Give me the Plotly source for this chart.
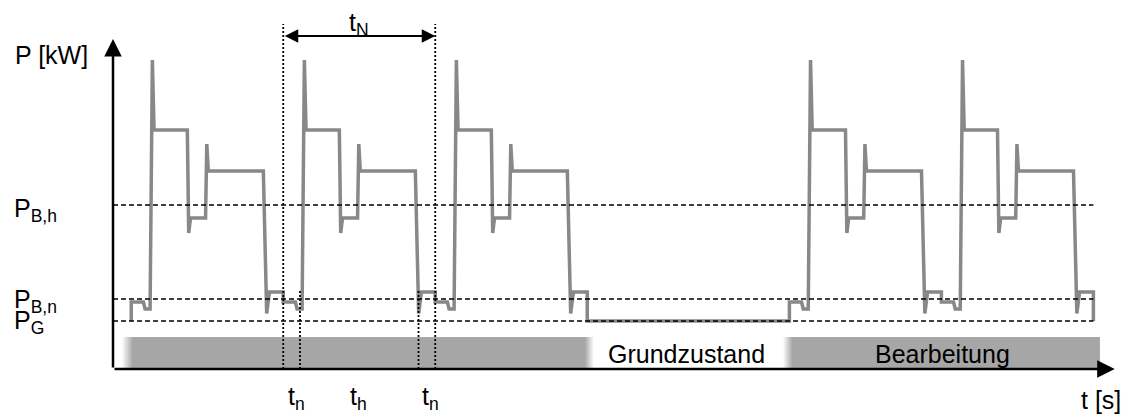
import plotly.graph_objects as go

# ---------------- data ----------------
# power profile P(t): time in s, power in kW (schematic units)
t_s = [
    1.2,
    1.2, 2.0, 2.11, 2.44, 2.59, 2.7, 4.89, 4.98, 5.1, 6.09, 6.17, 6.27, 9.89, 10.11, 10.29, 11.2,
    11.2, 12.0, 12.11, 12.44, 12.59, 12.7, 14.89, 14.98, 15.1, 16.09, 16.17, 16.27, 19.89, 20.11, 20.29, 21.2,
    21.2, 22.0, 22.11, 22.44, 22.59, 22.7, 24.89, 24.98, 25.1, 26.09, 26.17, 26.27, 29.89, 30.11, 30.29, 31.2,
    31.2, 44.5,
    44.5, 45.3, 45.41, 45.74, 45.89, 46.0, 48.19, 48.28, 48.4, 49.39, 49.47, 49.57, 53.19, 53.41, 53.59, 54.5,
    54.5, 55.3, 55.41, 55.74, 55.89, 56.0, 58.19, 58.28, 58.4, 59.39, 59.47, 59.57, 63.19, 63.41, 63.59, 64.5,
    64.5,
]
p_kw = [
    4.8,
    6.7, 6.7, 6.0, 6.0, 30.9, 23.9, 23.9, 13.6, 15.1, 15.1, 22.5, 19.8, 19.8, 5.55, 7.7, 7.7,
    6.7, 6.7, 6.0, 6.0, 30.9, 23.9, 23.9, 13.6, 15.1, 15.1, 22.5, 19.8, 19.8, 5.55, 7.7, 7.7,
    6.7, 6.7, 6.0, 6.0, 30.9, 23.9, 23.9, 13.6, 15.1, 15.1, 22.5, 19.8, 19.8, 5.55, 7.7, 7.7,
    4.8, 4.8,
    6.7, 6.7, 6.0, 6.0, 30.9, 23.9, 23.9, 13.6, 15.1, 15.1, 22.5, 19.8, 19.8, 5.55, 7.7, 7.7,
    6.7, 6.7, 6.0, 6.0, 30.9, 23.9, 23.9, 13.6, 15.1, 15.1, 22.5, 19.8, 19.8, 5.55, 7.7, 7.7,
    4.8,
]

# reference power levels
level_names = ["P<sub>G</sub>", "P<sub>B,n</sub>", "P<sub>B,h</sub>"]
level_kw = [4.8, 7.0, 16.4]
level_end_t = 64.5

# time markers (t_n, t_h intervals) and cycle time t_N
marker_t = [11.2, 12.3, 20.1, 21.2]
marker_top_kw = [34.5, 7.9, 7.9, 34.5]
time_labels = ["t<sub>n</sub>", "t<sub>h</sub>", "t<sub>n</sub>"]
time_label_t = [12.07, 16.12, 20.86]
cycle_label = "t<sub>N</sub>"
cycle_start_t = 11.2
cycle_end_t = 21.2

# operating states bar
bar_start_t = [0.59, 44.08]
bar_end_t = [31.64, 64.93]
state_names = ["Grundzustand", "Bearbeitung"]
state_label_t = [37.7, 54.6]

# axis titles
y_title = "P [kW]"
x_title = "t [s]"

# ---------------- figure ----------------
FONT = "Liberation Sans, Arial, sans-serif"
GREY_BAR = "#a6a6a6"
GREY_LINE = "#888888"
BAR_H = 3.2

fig = go.Figure()

# state bars with soft (gradient) edges
bar_scales = [
    [[0, "white"], [0.023, GREY_BAR], [0.981, GREY_BAR], [1, "white"]],
    [[0, "white"], [0.03, GREY_BAR], [1, GREY_BAR]],
]
for x0, x1, cs in zip(bar_start_t, bar_end_t, bar_scales):
    fig.add_trace(go.Scatter(
        x=[x0, x1, x1, x0, x0], y=[0, 0, BAR_H, BAR_H, 0],
        mode="lines", fill="toself", line=dict(width=0, color=GREY_BAR),
        fillgradient=dict(type="horizontal", colorscale=cs),
        hoverinfo="skip", showlegend=False,
    ))

# power profile
fig.add_trace(go.Scatter(
    x=t_s, y=p_kw, mode="lines",
    line=dict(color=GREY_LINE, width=3.5),
    hoverinfo="skip", showlegend=False,
))

shapes = []
for lv in level_kw:
    shapes.append(dict(type="line", xref="x", yref="y", x0=0, x1=level_end_t, y0=lv, y1=lv,
                       line=dict(color="black", width=1.6, dash="5px,3px")))
for mt, top in zip(marker_t, marker_top_kw):
    shapes.append(dict(type="line", xref="x", yref="y", x0=mt, x1=mt, y0=0, y1=top,
                       line=dict(color="black", width=1.8, dash="2px,2px")))

ann = []
# axes with arrows
ann.append(dict(x=0, y=33.0, ax=0, ay=0, xref="x", yref="y", axref="x", ayref="y",
                text="", showarrow=True, arrowhead=2, arrowsize=1.4, arrowwidth=2.5,
                arrowcolor="black"))
ann.append(dict(x=65.9, y=0, ax=0, ay=0, xref="x", yref="y", axref="x", ayref="y",
                text="", showarrow=True, arrowhead=2, arrowsize=1.4, arrowwidth=2.5,
                arrowcolor="black"))
# t_N double arrow
ann.append(dict(x=cycle_end_t, y=33.3, ax=cycle_start_t, ay=33.3, xref="x", yref="y",
                axref="x", ayref="y", text="", showarrow=True, arrowside="end+start",
                arrowhead=2, startarrowhead=2, arrowsize=1.35, startarrowsize=1.35,
                arrowwidth=2, arrowcolor="black"))

txt = dict(family=FONT, size=25, color="black")
ann.append(dict(x=(cycle_start_t + cycle_end_t) / 2, y=34.5, xref="x", yref="y",
                text=cycle_label, showarrow=False, font=txt))
ann.append(dict(x=-6.6, y=31.45, xref="x", yref="y", xanchor="left", text=y_title,
                showarrow=False, font=txt))
ann.append(dict(x=65.0, y=-3.05, xref="x", yref="y", text=x_title, showarrow=False, font=txt))
for name, lv, yl in zip(level_names, level_kw, [4.75, 6.8, 15.88]):
    ann.append(dict(x=-6.64, y=yl, xref="x", yref="y", xanchor="left", text=name,
                    showarrow=False, font=txt))
for lab, tl in zip(time_labels, time_label_t):
    ann.append(dict(x=tl, y=-2.9, xref="x", yref="y", text=lab, showarrow=False, font=txt))
for name, tl in zip(state_names, state_label_t):
    ann.append(dict(x=tl, y=1.5, xref="x", yref="y", text=name, showarrow=False, font=txt))

fig.update_layout(
    width=1125, height=414,
    margin=dict(l=0, r=0, t=0, b=0),
    paper_bgcolor="white", plot_bgcolor="white",
    xaxis=dict(range=[-7.434, 66.579], visible=False, fixedrange=True),
    yaxis=dict(range=[-4.5, 36.9], visible=False, fixedrange=True),
    shapes=shapes, annotations=ann, showlegend=False,
)

fig.write_html(
    "out.html",
    config={"displayModeBar": False},
    post_script="document.body.style.margin='0px';document.body.style.overflow='hidden';",
)
